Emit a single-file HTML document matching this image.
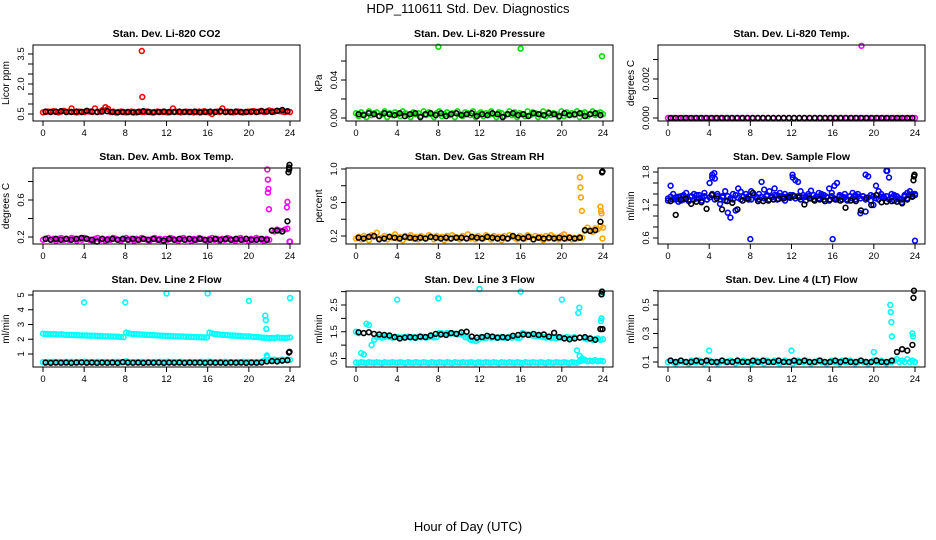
<!DOCTYPE html>
<html><head><meta charset="utf-8"><style>
html,body{margin:0;padding:0;background:#fff;}
svg{display:block;font-family:"Liberation Sans",sans-serif;}
</style></head><body>
<svg id="chart" width="936" height="540" viewBox="0 0 936 540">
<text x="468" y="13" text-anchor="middle" font-size="13">HDP_110611  Std. Dev. Diagnostics</text>
<text x="468" y="531" text-anchor="middle" font-size="13">Hour of Day (UTC)</text>
</svg>
<script>
// ---------- data ----------
const xTickLabels = [0,4,8,12,16,20,24];

const co2Red = [0.58,0.6,0.62,0.6,0.64,0.6,0.58,0.62,0.66,0.6,0.62,0.78,0.6,0.58,0.62,0.6,0.6,0.64,0.62,0.6,0.78,0.6,0.62,0.7,0.84,0.76,0.6,0.62,0.58,0.6,0.62,0.6,0.58,0.6,0.62,0.6,0.58,0.62,0.6,0.6,0.62,0.6,0.58,0.6,0.62,0.6,0.6,0.6,0.58,0.6,0.78,0.62,0.6,0.58,0.6,0.62,0.6,0.6,0.58,0.6,0.62,0.6,0.64,0.6,0.58,0.5,0.6,0.62,0.6,0.78,0.6,0.62,0.6,0.58,0.6,0.62,0.6,0.58,0.6,0.62,0.6,0.64,0.6,0.62,0.66,0.6,0.62,0.68,0.64,0.62,0.66,0.64,0.62,0.6,0.62,0.6];
const co2Black = [0.62,0.6,0.62,0.64,0.6,0.6,0.62,0.6,0.66,0.62,0.6,0.62,0.64,0.6,0.58,0.6,0.6,0.58,0.6,0.64,0.6,0.58,0.6,0.62,0.6,0.6,0.62,0.6,0.6,0.62,0.58,0.6,0.62,0.6,0.64,0.6,0.6,0.62,0.6,0.6,0.62,0.6,0.64,0.62,0.6,0.66,0.7,0.64];
const co2OutHours = [9.6,9.65];
const co2OutVals = [3.65,1.35];

const presGreen = [0.005,0.002,0.006,0.004,0.001,0.007,0.003,0.005,0.006,0.002,0.004,0.007,0.001,0.005,0.003,0.006,0.004,0.002,0.007,0.005,0.003,0.001,0.006,0.004,0.005,0.002,0.007,0.003,0.006,0.004,0.001,0.005,0.007,0.002,0.004,0.006,0.003,0.005,0.001,0.007,0.004,0.002,0.006,0.005,0.003,0.007,0.001,0.004,0.006,0.002,0.005,0.003,0.007,0.004,0.001,0.006,0.005,0.002,0.004,0.007,0.003,0.006,0.001,0.005,0.004,0.002,0.007,0.003,0.006,0.005,0.001,0.004,0.007,0.002,0.006,0.003,0.005,0.004,0.001,0.007,0.002,0.006,0.004,0.005,0.003,0.007,0.001,0.005,0.006,0.002,0.004,0.007,0.003,0.005,0.006,0.004];
const presBlack = [0.004,0.003,0.005,0.004,0.002,0.005,0.004,0.003,0.005,0.002,0.004,0.005,0.001,0.004,0.005,0.003,0.005,0.002,0.004,0.005,0.003,0.004,0.005,0.002,0.004,0.003,0.005,0.004,0.001,0.004,0.005,0.003,0.004,0.002,0.005,0.004,0.003,0.005,0.004,0.002,0.005,0.003,0.004,0.005,0.002,0.004,0.005,0.003];
const presOutHours = [8,16,23.9];
const presOutVals = [0.075,0.073,0.065];

const tempMag = [0,0,0,0,0,0,0,0,0,0,0,0,0,0,0,0,0,0,0,0,0,0,0,0,0,0,0,0,0,0,0,0,0,0,0,0,0,0,0,0,0,0,0,0,0,0,0,0];
const tempBlack = [0,0,0,0,0,0,0,0,0,0,0,0,0,0,0,0,0,0,0,0,0,0,0,0,0,0,0,0,0,0,0,0,0,0,0,0,0,0,0,0,0,0,0,0,0,0,0,0];
const tempOutHours = [18.8];
const tempOutVals = [0.0037];

const ambMag = [0.17,0.18,0.19,0.17,0.18,0.16,0.18,0.19,0.17,0.18,0.17,0.19,0.18,0.16,0.18,0.17,0.19,0.18,0.17,0.16,0.18,0.19,0.17,0.18,0.16,0.18,0.17,0.19,0.18,0.17,0.16,0.18,0.19,0.17,0.18,0.16,0.18,0.17,0.19,0.18,0.17,0.16,0.18,0.19,0.17,0.18,0.16,0.18,0.17,0.19,0.18,0.17,0.16,0.18,0.19,0.17,0.18,0.16,0.18,0.17,0.19,0.18,0.17,0.16,0.18,0.19,0.17,0.18,0.16,0.18,0.17,0.19,0.18,0.17,0.16,0.18,0.19,0.17,0.18,0.16,0.18,0.17,0.19,0.18,0.17,0.16,0.18,0.17,0.27,0.26,0.28,0.27,0.26,0.28,0.29,0.15];
const ambBlack = [0.18,0.17,0.18,0.17,0.18,0.17,0.18,0.19,0.18,0.17,0.15,0.18,0.17,0.18,0.17,0.18,0.17,0.18,0.17,0.18,0.17,0.18,0.17,0.16,0.18,0.17,0.18,0.17,0.18,0.17,0.18,0.17,0.17,0.18,0.17,0.18,0.17,0.18,0.17,0.18,0.17,0.17,0.18,0.17,0.27,0.27,0.26,0.37];
const ambMagOutHours = [21.8,21.85,21.9,21.85,21.95,23.7,23.75,23.95];
const ambMagOutVals = [0.93,0.82,0.72,0.68,0.5,0.52,0.58,0.15];
const ambBlackOutHours = [23.9,23.95,23.92,23.85];
const ambBlackOutVals = [0.95,0.98,0.93,0.9];

const rhOrange = [0.17,0.19,0.16,0.2,0.18,0.15,0.21,0.19,0.24,0.17,0.18,0.2,0.16,0.19,0.18,0.22,0.17,0.19,0.15,0.2,0.18,0.21,0.17,0.19,0.16,0.2,0.18,0.17,0.21,0.19,0.16,0.2,0.18,0.19,0.15,0.2,0.17,0.21,0.19,0.18,0.16,0.2,0.18,0.22,0.17,0.19,0.16,0.2,0.18,0.17,0.21,0.19,0.16,0.2,0.18,0.19,0.15,0.2,0.17,0.21,0.19,0.18,0.16,0.2,0.18,0.17,0.21,0.19,0.16,0.2,0.18,0.19,0.15,0.2,0.17,0.21,0.19,0.18,0.16,0.2,0.22,0.17,0.19,0.16,0.18,0.17,0.19,0.18,0.26,0.3,0.27,0.25,0.29,0.28,0.32,0.3];
const rhBlack = [0.18,0.17,0.19,0.2,0.16,0.17,0.19,0.18,0.17,0.19,0.18,0.17,0.18,0.17,0.19,0.18,0.17,0.18,0.17,0.18,0.18,0.17,0.19,0.18,0.17,0.19,0.18,0.17,0.18,0.17,0.2,0.18,0.17,0.19,0.16,0.18,0.17,0.18,0.17,0.18,0.17,0.18,0.17,0.18,0.27,0.26,0.27,0.37];
const rhOrangeOutHours = [21.75,21.8,21.85,21.95,23.75,23.8,23.85,23.95];
const rhOrangeOutVals = [0.9,0.78,0.66,0.5,0.55,0.5,0.47,0.17];
const rhBlackOutHours = [23.9,23.95];
const rhBlackOutVals = [0.96,0.97];

const flowBlue = [1.32,1.55,1.4,1.3,1.35,1.28,1.38,1.42,1.3,1.36,1.4,1.32,1.38,1.34,1.42,1.3,1.6,1.7,1.68,1.4,1.22,1.36,1.45,1.06,0.97,1.4,1.1,1.5,1.44,1.35,1.4,1.3,1.45,1.38,1.35,1.4,1.62,1.48,1.38,1.45,1.35,1.5,1.38,1.42,1.36,1.4,1.35,1.38,1.7,1.65,1.62,1.45,1.38,1.35,1.4,1.46,1.38,1.35,1.42,1.4,1.38,1.35,1.5,1.42,1.55,1.6,1.38,1.35,1.4,1.3,1.36,1.42,1.38,1.4,1.05,1.36,1.08,1.72,1.38,1.2,1.55,1.45,1.4,1.35,1.82,1.7,1.4,1.38,1.35,1.3,1.25,1.38,1.42,1.45,1.4,1.38];
const flowBlue2 = [1.28,1.35,1.3,1.34,1.26,1.36,1.3,1.33,1.27,1.35,1.3,1.38,1.32,1.28,1.36,1.3,1.34,1.4,1.3,1.36,1.3,1.34,1.28,1.36,1.32,1.3,1.38,1.33,1.3,1.35,1.32,1.36,1.3,1.38,1.33,1.3,1.35,1.32,1.36,1.3,1.34,1.38,1.3,1.36,1.32,1.28,1.36,1.33,1.38,1.32,1.36,1.3,1.34,1.28,1.36,1.32,1.3,1.35,1.32,1.36,1.3,1.34,1.28,1.36,1.32,1.3,1.35,1.3,1.34,1.28,1.36,1.32,1.3,1.35,1.32,1.36,1.3,1.34,1.28,1.36,1.32,1.3,1.35,1.32,1.36,1.3,1.34,1.28,1.36,1.32,1.3,1.35,1.32,1.38,1.36,1.4];
const flowBlack = [1.27,1.02,1.3,1.31,1.22,1.26,1.25,1.13,1.38,1.32,1.12,1.27,1.24,1.12,1.28,1.32,1.42,1.27,1.27,1.28,1.3,1.31,1.32,1.34,1.36,1.34,1.21,1.32,1.28,1.3,1.27,1.3,1.3,1.28,1.15,1.28,1.27,1.1,1.33,1.2,1.38,1.25,1.26,1.27,1.26,1.23,1.3,1.35];
const flowBlueOutHours = [8,16,24,21.3,4.3,4.5,12.1,19.2];
const flowBlueOutVals = [0.58,0.58,0.55,1.82,1.75,1.78,1.75,1.75];
const flowBlackOutHours = [23.85,23.9,23.95];
const flowBlackOutVals = [1.65,1.72,1.75];

const line2CyanHi = [2.38,2.36,2.35,2.34,2.35,2.33,2.32,2.33,2.31,2.3,2.3,2.29,2.28,2.28,2.27,2.26,2.26,2.25,2.24,2.24,2.23,2.22,2.22,2.21,2.2,2.2,2.19,2.18,2.18,2.17,2.15,2.14,2.45,2.4,2.36,2.35,2.34,2.33,2.32,2.31,2.3,2.3,2.28,2.27,2.26,2.25,2.24,2.23,2.22,2.22,2.21,2.2,2.2,2.19,2.18,2.17,2.17,2.16,2.15,2.15,2.14,2.13,2.12,2.12,2.45,2.4,2.36,2.34,2.32,2.3,2.29,2.28,2.26,2.25,2.24,2.23,2.22,2.2,2.2,2.19,2.18,2.16,2.15,2.14,2.12,2.1,2.1,2.08,2.1,2.08,2.12,2.1,2.1,2.08,2.1,2.12];
const line2CyanLo = [0.45,0.44,0.46,0.45,0.47,0.44,0.46,0.45,0.44,0.46,0.45,0.47,0.44,0.46,0.45,0.44,0.48,0.45,0.46,0.44,0.45,0.47,0.45,0.44,0.46,0.45,0.44,0.46,0.45,0.47,0.44,0.46,0.5,0.46,0.45,0.44,0.46,0.45,0.47,0.44,0.46,0.45,0.44,0.46,0.45,0.47,0.44,0.46,0.48,0.45,0.46,0.44,0.45,0.47,0.45,0.44,0.46,0.45,0.44,0.46,0.45,0.47,0.44,0.46,0.48,0.46,0.45,0.44,0.46,0.45,0.47,0.44,0.46,0.45,0.44,0.46,0.45,0.47,0.44,0.46,0.45,0.44,0.46,0.45,0.47,0.55,0.58,0.56,0.6,0.62,0.58,0.6,0.62,0.6,0.62,0.6];
const line2Black = [0.42,0.4,0.42,0.41,0.42,0.4,0.42,0.43,0.41,0.42,0.4,0.42,0.41,0.42,0.4,0.45,0.42,0.41,0.42,0.4,0.42,0.41,0.42,0.4,0.42,0.41,0.42,0.4,0.42,0.41,0.42,0.4,0.42,0.41,0.42,0.4,0.42,0.41,0.42,0.4,0.42,0.41,0.43,0.5,0.52,0.5,0.55,0.58];
const line2CyanOutHours = [4,8,12,16,20,21.6,21.65,21.7,21.75,21.8,24];
const line2CyanOutVals = [4.5,4.5,5.1,5.1,4.6,3.6,3.3,2.7,0.9,0.8,4.8];
const line2BlackOutHours = [23.9,23.95];
const line2BlackOutVals = [1.1,1.15];

const line3CyanHi = [1.5,1.45,0.7,0.65,1.8,1.75,1.0,1.2,1.3,1.32,1.28,1.3,1.33,1.3,1.28,1.31,1.3,1.27,1.29,1.3,1.32,1.28,1.3,1.27,1.3,1.29,1.31,1.28,1.3,1.32,1.29,1.3,1.45,1.44,1.42,1.45,1.43,1.44,1.42,1.4,1.43,1.38,1.3,1.28,1.2,1.18,1.15,1.2,1.3,1.28,1.26,1.3,1.28,1.3,1.27,1.28,1.3,1.28,1.27,1.3,1.28,1.3,1.27,1.28,1.45,1.42,1.4,1.38,1.36,1.34,1.35,1.32,1.3,1.28,1.3,1.27,1.28,1.25,1.3,1.28,1.26,1.3,1.28,1.26,1.3,0.8,0.6,0.5,1.25,1.22,1.25,1.2,1.22,1.25,1.2,1.22];
const line3CyanLo = [0.35,0.34,0.36,0.35,0.33,0.36,0.35,0.34,0.36,0.35,0.33,0.36,0.35,0.34,0.36,0.35,0.34,0.36,0.35,0.33,0.36,0.35,0.34,0.36,0.35,0.34,0.36,0.35,0.33,0.36,0.35,0.34,0.36,0.35,0.34,0.36,0.35,0.33,0.36,0.35,0.34,0.36,0.35,0.34,0.36,0.35,0.33,0.36,0.35,0.34,0.36,0.35,0.34,0.36,0.35,0.33,0.36,0.35,0.34,0.36,0.35,0.34,0.36,0.35,0.33,0.36,0.35,0.34,0.36,0.35,0.34,0.36,0.35,0.33,0.36,0.35,0.34,0.36,0.35,0.34,0.36,0.35,0.33,0.36,0.35,0.34,0.4,0.42,0.45,0.4,0.42,0.4,0.44,0.4,0.42,0.4];
const line3Black = [1.48,1.45,1.48,1.42,1.4,1.38,1.36,1.3,1.25,1.28,1.3,1.28,1.32,1.3,1.36,1.42,1.4,1.38,1.45,1.42,1.48,1.5,1.32,1.28,1.3,1.35,1.32,1.28,1.3,1.28,1.35,1.38,1.4,1.38,1.42,1.38,1.4,1.32,1.46,1.3,1.25,1.22,1.25,1.28,1.3,1.25,1.2,1.6];
const line3CyanOutHours = [4,8,12,16,20,21.6,21.7,23.8,23.85,23.9];
const line3CyanOutVals = [2.7,2.75,3.1,3.0,2.7,2.2,2.4,1.9,2.0,2.9];
const line3BlackOutHours = [23.85,23.9,23.95];
const line3BlackOutVals = [2.9,3.0,1.6];

const line4Cyan = [0.1,0.11,0.1,0.09,0.1,0.11,0.1,0.1,0.09,0.11,0.1,0.1,0.11,0.1,0.09,0.1,0.11,0.1,0.1,0.09,0.1,0.11,0.1,0.1,0.11,0.1,0.09,0.1,0.1,0.11,0.1,0.1,0.09,0.1,0.11,0.1,0.1,0.09,0.11,0.1,0.1,0.11,0.1,0.09,0.1,0.11,0.1,0.1,0.09,0.1,0.11,0.1,0.1,0.11,0.1,0.09,0.1,0.1,0.11,0.1,0.1,0.09,0.1,0.11,0.1,0.1,0.09,0.11,0.1,0.1,0.11,0.1,0.09,0.1,0.11,0.1,0.1,0.09,0.1,0.11,0.1,0.1,0.11,0.1,0.09,0.1,0.1,0.11,0.12,0.1,0.11,0.1,0.12,0.1,0.11,0.1];
const line4Black = [0.11,0.1,0.11,0.1,0.1,0.11,0.1,0.11,0.1,0.1,0.11,0.1,0.1,0.11,0.1,0.1,0.11,0.1,0.11,0.1,0.1,0.11,0.1,0.1,0.11,0.1,0.11,0.1,0.1,0.11,0.1,0.1,0.11,0.1,0.11,0.1,0.1,0.11,0.1,0.1,0.11,0.1,0.1,0.11,0.17,0.19,0.18,0.22];
const line4CyanOutHours = [4,12,20,21.6,21.65,21.7,21.75,23.75,23.8,23.95];
const line4CyanOutVals = [0.18,0.18,0.17,0.5,0.45,0.38,0.28,0.3,0.28,0.1];
const line4BlackOutHours = [23.85,23.9];
const line4BlackOutVals = [0.55,0.6];

// ---------- layout ----------
const svg = document.getElementById('chart');
const NS = 'http://www.w3.org/2000/svg';

const panels = [
 {key:'co2',title:'Stan. Dev. Li-820 CO2',ylab:'Licor ppm',L:33,T:45,v1:0.5,p1:114,v2:3.5,p2:54,ticks:[0.5,1,1.5,2,2.5,3,3.5],labels:['0.5','2.0','3.5'],
  series:[[co2Red,'#ff0000'],[co2Black,'#000']],out:[[co2OutHours,co2OutVals,'#ff0000']]},
 {key:'pressure',title:'Stan. Dev. Li-820 Pressure',ylab:'kPa',L:346,T:45,v1:0,p1:118,v2:0.04,p2:80,ticks:[0,0.02,0.04,0.06],labels:['0.00','0.04'],
  series:[[presGreen,'#00e000'],[presBlack,'#000']],out:[[presOutHours,presOutVals,'#00e000']]},
 {key:'temp',title:'Stan. Dev. Li-820 Temp.',ylab:'degrees C',L:658,T:45,v1:0,p1:118,v2:0.002,p2:79,ticks:[0,0.001,0.002,0.003],labels:['0.000','0.002'],
  series:[[tempMag,'#ff00ff'],[tempBlack,'#000']],out:[[tempOutHours,tempOutVals,'#ff00ff']]},
 {key:'amb',title:'Stan. Dev. Amb. Box Temp.',ylab:'degrees C',L:33,T:168,v1:0.2,p1:237,v2:0.6,p2:200,ticks:[0.2,0.4,0.6,0.8],labels:['0.2','0.6'],
  series:[[ambMag,'#ff00ff'],[ambBlack,'#000']],out:[[ambMagOutHours,ambMagOutVals,'#ff00ff'],[ambBlackOutHours,ambBlackOutVals,'#000']]},
 {key:'rh',title:'Stan. Dev. Gas Stream RH',ylab:'percent',L:346,T:168,v1:0.2,p1:236,v2:1.0,p2:169,ticks:[0.2,0.4,0.6,0.8,1.0],labels:['0.2','0.6','1.0'],
  series:[[rhOrange,'#ffa500'],[rhBlack,'#000']],out:[[rhOrangeOutHours,rhOrangeOutVals,'#ffa500'],[rhBlackOutHours,rhBlackOutVals,'#000']]},
 {key:'sampleflow',title:'Stan. Dev. Sample Flow',ylab:'ml/min',L:658,T:168,v1:0.6,p1:238,v2:1.8,p2:172,ticks:[0.6,0.8,1.0,1.2,1.4,1.6,1.8],labels:['0.6','1.2','1.8'],
  series:[[flowBlue2,'#0000ff'],[flowBlue,'#0000ff'],[flowBlack,'#000']],out:[[flowBlueOutHours,flowBlueOutVals,'#0000ff'],[flowBlackOutHours,flowBlackOutVals,'#000']]},
 {key:'line2',title:'Stan. Dev. Line 2 Flow',ylab:'ml/min',L:33,T:291,v1:1,p1:354,v2:5,p2:295,ticks:[1,2,3,4,5],labels:['1','2','3','4','5'],
  series:[[line2CyanHi,'#00ffff'],[line2CyanLo,'#00ffff'],[line2Black,'#000']],out:[[line2CyanOutHours,line2CyanOutVals,'#00ffff'],[line2BlackOutHours,line2BlackOutVals,'#000']]},
 {key:'line3',title:'Stan. Dev. Line 3 Flow',ylab:'ml/min',L:346,T:291,v1:0.5,p1:358.5,v2:2.5,p2:305,ticks:[0.5,1,1.5,2,2.5,3],labels:['0.5','1.5','2.5'],
  series:[[line3CyanLo,'#00ffff'],[line3CyanHi,'#00ffff'],[line3Black,'#000']],out:[[line3CyanOutHours,line3CyanOutVals,'#00ffff'],[line3BlackOutHours,line3BlackOutVals,'#000']]},
 {key:'line4',title:'Stan. Dev. Line 4 (LT) Flow',ylab:'ml/min',L:658,T:291,v1:0.1,p1:362,v2:0.5,p2:305,ticks:[0.1,0.2,0.3,0.4,0.5,0.6],labels:['0.1','0.3','0.5'],
  series:[[line4Cyan,'#00ffff'],[line4Black,'#000']],out:[[line4CyanOutHours,line4CyanOutVals,'#00ffff'],[line4BlackOutHours,line4BlackOutVals,'#000']]}
];
const W=267,H=76;

panels.forEach(p=>{
  const g=document.createElementNS(NS,'g');
  
  
  svg.appendChild(g);
  function add(tag,attrs){const e=document.createElementNS(NS,tag);for(const k in attrs)e.setAttribute(k,attrs[k]);g.appendChild(e);return e;}
  const xs=h=>p.L+10+h*(247/24);
  const ys=v=>p.p1+(v-p.v1)*(p.p2-p.p1)/(p.v2-p.v1);
  const B=p.T+H;
  const t=add('text',{x:p.L+W/2,y:p.T-8,'text-anchor':'middle','font-size':'10.5','font-weight':'bold'});
  t.textContent=p.title;
  
  
  const yl=add('text',{x:0,y:0,'text-anchor':'middle','font-size':'10',transform:`translate(${p.L-24},${p.T+H/2}) rotate(-90)`});
  yl.textContent=p.ylab;
  
  
  xTickLabels.forEach(h=>{
    add('line',{x1:xs(h),x2:xs(h),y1:B,y2:B+5,stroke:'#000','stroke-width':1});
    const tl=add('text',{x:xs(h),y:B+15,'text-anchor':'middle','font-size':'9.5'});
    tl.textContent=h;
    
    
  });
  p.ticks.forEach(v=>{
    add('line',{x1:p.L-5,x2:p.L,y1:ys(v),y2:ys(v),stroke:'#000','stroke-width':1});
  });
  p.labels.forEach(s=>{
    const v=parseFloat(s);
    const tl=add('text',{x:0,y:0,'text-anchor':'middle','font-size':'9.5',transform:`translate(${p.L-9},${ys(v)}) rotate(-90)`});
    tl.textContent=s;
    
    
  });
  const dg=add('g',{});
  function pt(h,v,c){
    const e=document.createElementNS(NS,'circle');
    e.setAttribute('cx',xs(h));e.setAttribute('cy',ys(v));e.setAttribute('r',2.4);
    e.setAttribute('fill','none');e.setAttribute('stroke',c);e.setAttribute('stroke-width',1.6);
    
    
    dg.appendChild(e);
  }
  p.series.forEach(([vals,c])=>{
    const n=vals.length;
    const black=(c==='#000');
    vals.forEach((v,i)=>{
      const h = black ? 0.25+i*(23.5/(n-1)) : i*(24/(n-1));
      pt(h,v,c);
    });
  });
  p.out.forEach(([hs,vs,c])=>{hs.forEach((h,i)=>pt(h,vs[i],c));});
  const box=add('rect',{x:p.L,y:p.T,width:W,height:H,fill:'none',stroke:'#000','stroke-width':1});
  
  
});
</script>
</body></html>
